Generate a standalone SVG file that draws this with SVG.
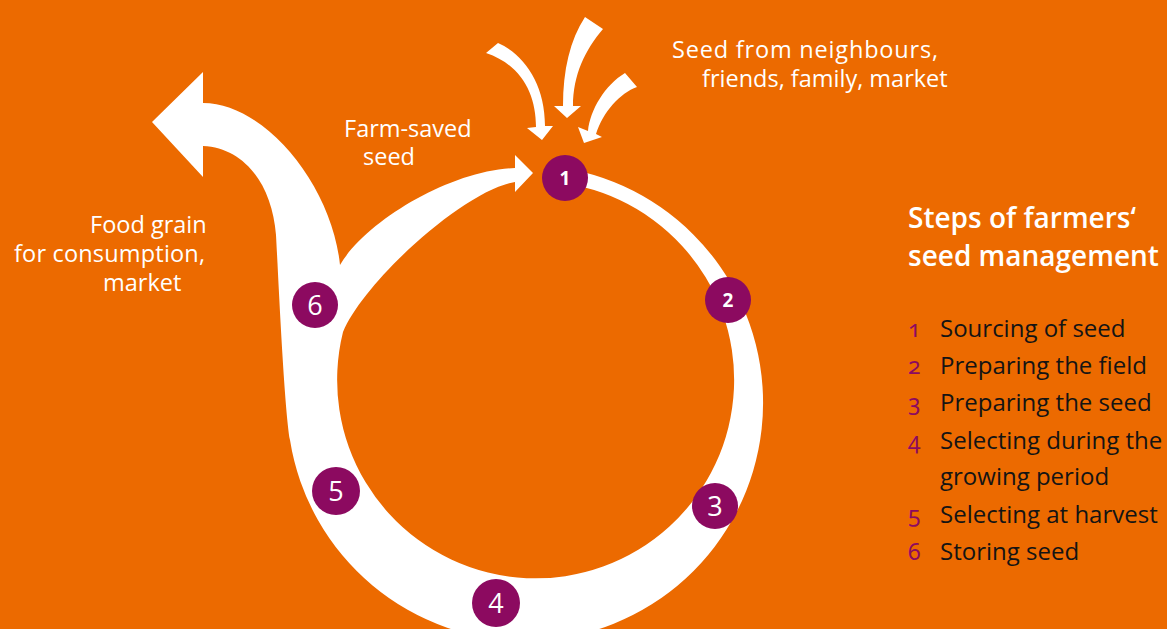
<svg xmlns="http://www.w3.org/2000/svg" width="1167" height="629" viewBox="0 0 1167 629">
  <defs>
    <style>
      .bg { fill: #EC6A00; }
      .band { fill: #FFFFFF; }
      .node circle { fill: #8C0A60; }
      .num { fill: #FFFFFF; font-family: "Open Sans", "Noto Sans", sans-serif; text-anchor: middle; }
      .numb { font-weight: 700; font-size: 19px; }
      .numr { font-weight: 400; font-size: 27px; }
      .lbl { fill: #FFFFFF; font-family: "Open Sans", "Noto Sans", sans-serif; font-size: 23.5px; }
      .title { fill: #FFFFFF; font-family: "Open Sans", "Noto Sans", sans-serif; font-size: 28px; font-weight: 600; }
      .item { fill: #141414; font-family: "Open Sans", "Noto Sans", sans-serif; font-size: 24px; }
      .inum { fill: #8C0A60; font-family: "Noto Sans", "Open Sans", sans-serif; font-size: 23px; font-variant-numeric: oldstyle-nums; }
    </style>
  </defs>
  <rect class="bg" x="0" y="0" width="1167" height="629"/>

  <g id="connectors">
    <!-- main cycle band with farm-saved arrow and food grain branch -->
    <path id="cycle-band" class="band" d="M 340,265
      C 365,222 450,170 515,168
      L 515,155 L 533,173 L 515,192 L 515,182
      C 465,190 365,280 343,332
      A 198.5 198.5 0 1 0 583,187.1
      L 583,172
      A 238 238 0 1 1 290,440
      C 284,405 278,270 276,235
      C 272,185 245,148 203,146
      L 203,177 L 152,122 L 203,72 L 203,103
      C 265,103 332,185 340,265 Z"/>
    <!-- incoming seed arrows -->
    <path id="arrow-in-a" class="band" d="M 486,53 L 498,43 C 525,55 545,85 545,126 L 553,126 L 542,140 L 527,128 L 536,127 C 536,95 522,65 486,53 Z"/>
    <path id="arrow-in-b" class="band" d="M 585,17 L 603,29 C 585,50 573,75 573,106 L 581,106 L 567,118 L 554,106 L 563,106 C 563,70 570,40 585,17 Z"/>
    <path id="arrow-in-c" class="band" d="M 625,73 L 637,87 C 620,93 603,112 596,134 L 602,137 L 584,143 L 578,127 L 588,131 C 590,110 605,85 625,73 Z"/>
  </g>

  <g id="node-1" class="node"><circle cx="565" cy="178" r="23"/><text class="num numb" x="565" y="185">1</text></g>
  <g id="node-2" class="node"><circle cx="728" cy="300" r="23"/><text class="num numb" x="728" y="307">2</text></g>
  <g id="node-3" class="node"><circle cx="715" cy="506" r="23"/><text class="num numr" x="715" y="516">3</text></g>
  <g id="node-4" class="node"><circle cx="496" cy="603" r="24"/><text class="num numr" x="496" y="613">4</text></g>
  <g id="node-5" class="node"><circle cx="336" cy="491" r="24"/><text class="num numr" x="336" y="501">5</text></g>
  <g id="node-6" class="node"><circle cx="315" cy="305" r="23"/><text class="num numr" x="315" y="315">6</text></g>

  <g id="label-sources">
    <text class="lbl" x="672" y="58" textLength="266" lengthAdjust="spacing">Seed from neighbours,</text>
    <text class="lbl" x="702" y="87">friends, family, market</text>
  </g>
  <g id="label-farm-saved">
    <text class="lbl" x="344" y="137">Farm-saved</text>
    <text class="lbl" x="363" y="165">seed</text>
  </g>
  <g id="label-food">
    <text class="lbl" x="90" y="233">Food grain</text>
    <text class="lbl" x="14" y="262" textLength="191" lengthAdjust="spacing">for consumption,</text>
    <text class="lbl" x="103" y="291">market</text>
  </g>

  <g id="legend">
    <text class="title" x="908" y="228">Steps of farmers‘</text>
    <text class="title" x="908" y="266">seed management</text>
    <text class="inum" x="908" y="337">1</text><text class="item" x="940" y="337">Sourcing of seed</text>
    <text class="inum" x="908" y="374">2</text><text class="item" x="940" y="374">Preparing the field</text>
    <text class="inum" x="908" y="411">3</text><text class="item" x="940" y="411">Preparing the seed</text>
    <text class="inum" x="908" y="449">4</text><text class="item" x="940" y="449">Selecting during the</text>
    <text class="item" x="940" y="485">growing period</text>
    <text class="inum" x="908" y="523">5</text><text class="item" x="940" y="523">Selecting at harvest</text>
    <text class="inum" x="908" y="560">6</text><text class="item" x="940" y="560">Storing seed</text>
  </g>
</svg>
